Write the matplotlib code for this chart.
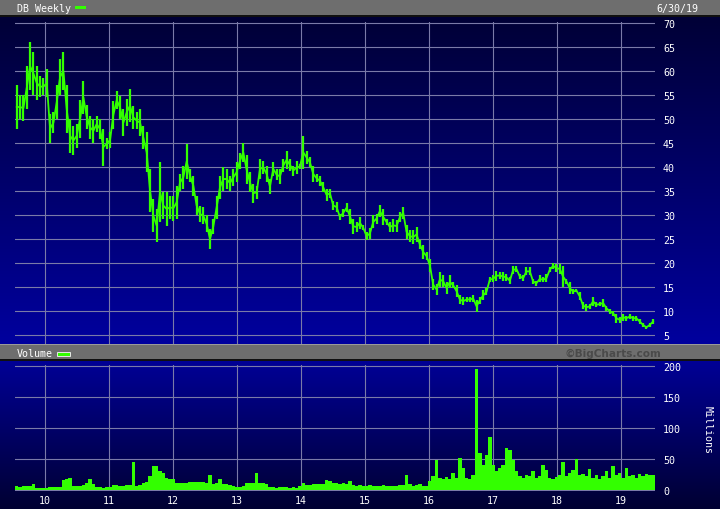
import numpy as np
import pandas as pd
import matplotlib
matplotlib.use("Agg")
import matplotlib.pyplot as plt
import matplotlib.dates as mdates
from matplotlib.colors import LinearSegmentedColormap
from matplotlib.patches import Rectangle

# DB weekly price, read every ~2.7 weeks: bar high / bar low
price_hi = [57, 55, 55, 61, 66, 64, 61, 59, 58.5, 60.4,
            51, 51.4, 57, 62.5, 64, 57, 50, 48.6, 49, 54,
            58, 53, 50.7, 50, 50.7, 50, 48, 46, 47.2, 53.8,
            55.9, 54.8, 52, 54.2, 56.3, 52.8, 51.4, 52, 48.6, 47.2,
            39.6, 33.3, 31.3, 41, 34.7, 34.7, 34, 34,
            36.1, 38.5, 40.3, 44.8, 39.6, 38.2, 34, 31.9, 31.6, 29.9,
            27.1, 29.2, 34, 38.2, 39.9, 39.6, 38.2, 39.6, 41, 43,
            45.1, 42.4, 38.9, 36.5, 36.1, 41.7, 41.3, 40.3, 37.5, 41,
            39.6, 39.6, 41.7, 43.4, 41.7, 40.3, 41.3, 40.6, 46.5, 43.4,
            42, 40.3, 38.5, 38.2, 36.8, 35.4, 35.5,
            33, 32.7, 30.3, 31.3, 32.4, 31.3, 29.2, 28.5, 29.6, 27.9,
            26.5, 27.2, 29.9, 30.3, 32, 31.3, 29.2, 28.5, 29.2, 28.9,
            30.6, 31.7, 27.9, 26.8, 26.8, 27.5, 24.7, 23.7, 22.3, 20.9,
            16.7, 15.7, 18.1, 17.4, 16, 17.4, 16, 15.4, 13.3, 12.9,
            12.9, 12.9, 13.3, 12.2, 12.9, 14.3, 14.7, 17.1,
            17.4, 18.4, 18.1, 18.1, 17.7, 17, 19.4, 19.4, 17.7, 17.4,
            19.1, 19.1, 16.7, 16.3, 17.4, 17, 17.7, 19.1, 20.1, 19.8,
            19.8, 19.4, 16.7, 16, 14.6, 14.6, 13.9, 11.8, 11.5, 11.5,
            12.9, 11.8, 11.8, 12.5, 11.1, 10.4, 10.1, 9.4, 8.7, 9.4,
            9, 9.4, 9, 9, 8.3, 7.6, 6.9, 7.6, 8.3]
price_lo = [48, 50, 49.5, 52, 56, 55, 54, 54.5, 55, 54.5,
            45, 47, 50, 55, 56, 47, 43, 42.4, 44, 46,
            51, 48, 45.8, 45.1, 47.2, 45.8, 40.3, 43.7, 44, 47.9,
            52, 50, 46.5, 48.6, 49.3, 47.9, 47.9, 46.5, 43.7, 38.9,
            30.6, 26.4, 24.3, 28.5, 29.2, 27.8, 29.2, 28.8,
            29.2, 35, 35.4, 37.5, 36.8, 34, 29.9, 28.5, 28.1, 26.4,
            22.9, 26, 29.2, 33.3, 35.1, 35.4, 35.1, 36.1, 36.8, 39.6,
            41, 36.5, 34.7, 32.6, 33.3, 37.5, 38.5, 36.8, 34.4, 38.2,
            37.2, 36.5, 38.9, 39.6, 39.2, 38.2, 38.5, 39.6, 39.6, 40.6,
            39.9, 36.8, 36.8, 36.1, 34.7, 33, 33.5,
            31, 30.6, 28.9, 29.6, 30.6, 28.2, 26.1, 26.5, 27.1, 26.8,
            24.7, 25.1, 27.2, 28.2, 29.6, 27.9, 27.9, 26.5, 26.5, 26.5,
            28.5, 29.2, 25.1, 24.4, 24, 24.4, 23, 20.9, 20.6, 18.1,
            14.3, 13.3, 15, 15, 13.6, 14.7, 14.7, 12.9, 11.5, 11.2,
            11.9, 11.9, 11.9, 9.8, 11.5, 12.2, 13.3, 16,
            16, 16.3, 16.7, 16.3, 16.3, 15.6, 17.7, 18.1, 16.7, 16.3,
            17.4, 17.4, 15.6, 15.3, 16, 16, 16, 18.1, 18.7, 18.1,
            17.7, 14.9, 15.6, 13.5, 13.5, 13.9, 12.2, 10.4, 10.1, 10.4,
            11.1, 10.8, 11.1, 10.8, 10.1, 9.4, 9, 7.6, 7.6, 8,
            8, 8.3, 8, 8, 7.3, 6.6, 6.3, 6.6, 7.3]
# volume, millions
volume = [6, 5, 7, 6, 6, 9, 4, 3, 3, 4,
          5, 5, 5, 5, 16, 18, 20, 7, 7, 7,
          8, 12, 17, 9, 5, 5, 4, 5, 5, 8,
          8, 7, 7, 8, 8, 45, 7, 8, 12, 13,
          22, 39, 38, 30, 28, 20, 18, 17, 11, 11,
          11, 12, 13, 13, 13, 13, 13, 12, 25, 9,
          12, 18, 9, 9, 8, 6, 5, 5, 6, 12,
          12, 12, 28, 12, 12, 10, 5, 5, 4, 5,
          5, 5, 4, 5, 4, 6, 12, 8, 8, 9,
          9, 9, 9, 16, 15, 11, 11, 10, 11, 10,
          15, 8, 7, 8, 6, 7, 8, 7, 6, 7,
          8, 7, 6, 7, 6, 8, 8, 24, 9, 7,
          8, 10, 6, 7, 15, 22, 49, 20, 18, 21,
          18, 27, 20, 51, 35, 20, 18, 24, 195, 60,
          40, 56, 86, 40, 30, 35, 40, 67, 64, 48,
          30, 22, 20, 24, 22, 30, 20, 22, 40, 32,
          20, 18, 21, 24, 45, 22, 27, 32, 50, 24,
          26, 22, 34, 20, 24, 18, 22, 30, 20, 38,
          25, 28, 20, 35, 22, 24, 20, 26, 22, 26, 25, 24]

dates = pd.date_range("2009-07-23", "2019-07-02", periods=len(price_hi))
year_ticks = pd.date_range("2010-01-01", "2019-01-01", freq="YS")
price_ticks = [5, 10, 15, 20, 25, 30, 35, 40, 45, 50, 55, 60, 65, 70]
vol_ticks = [0, 50, 100, 150, 200]

GREEN = "#33ff00"
GRID = "#7a7aa8"
HEAD = "#6e6e6e"
W, H = 720, 510

plt.rcParams["font.family"] = "DejaVu Sans Mono"

fig = plt.figure(figsize=(7.2, 5.1), dpi=100)
fig.patch.set_facecolor("#000035")


def box(x0, y0, x1, y1):
    return [x0 / W, 1 - y1 / H, (x1 - x0) / W, (y1 - y0) / H]


grad = np.linspace(0, 1, 256).reshape(-1, 1)
bg1 = fig.add_axes(box(0, 17, 720, 345))
bg1.imshow(grad, aspect="auto", extent=(0, 1, 0, 1),
           cmap=LinearSegmentedColormap.from_list("p", ["#000036", "#00009e"]))
bg1.set_axis_off()
bg2 = fig.add_axes(box(0, 361, 720, 510))
bg2.imshow(grad, aspect="auto", extent=(0, 1, 0, 1),
           cmap=LinearSegmentedColormap.from_list("v", ["#000096", "#000032"]))
bg2.set_axis_off()

# header bars
for y0, y1 in [(0, 17), (345, 361)]:
    fig.add_artist(Rectangle((0, 1 - y1 / H), 1, (y1 - y0) / H, transform=fig.transFigure,
                             facecolor=HEAD, edgecolor="none"))
    fig.add_artist(Rectangle((0, 1 - (y0 + 1.2) / H), 1, 1.2 / H, transform=fig.transFigure,
                             facecolor="#9a9a9a", edgecolor="none"))
    fig.add_artist(Rectangle((0, 1 - (y1 + 1) / H), 1, 1.6 / H, transform=fig.transFigure,
                             facecolor="#101010", edgecolor="none"))

fig.text(17 / W, 1 - 9 / H, "DB Weekly", color="white", fontsize=7.2, va="center")
fig.add_artist(Rectangle((75 / W, 1 - 9.5 / H), 11 / W, 3 / H, transform=fig.transFigure,
                         facecolor=GREEN, edgecolor="none"))
fig.text(698 / W, 1 - 9 / H, "6/30/19", color="white", fontsize=7.2, va="center", ha="right")
fig.text(17 / W, 1 - 354.5 / H, "Volume", color="white", fontsize=7.2, va="center")
fig.add_artist(Rectangle((57.5 / W, 1 - 356.5 / H), 12.5 / W, 4 / H, transform=fig.transFigure,
                         facecolor=GREEN, edgecolor="#e8e8e8", linewidth=0.7))
fig.text(613 / W, 1 - 353.5 / H, "\u00a9BigCharts.com", color="#4a4a4a", fontsize=7.6,
         va="center", ha="center", family="DejaVu Sans", weight="bold")

# price panel
ax = fig.add_axes(box(15, 23, 655, 345))
ax.set_facecolor("none")
price_mid = (np.array(price_hi) + np.array(price_lo)) / 2
ax.vlines(dates, price_lo, price_hi, color=GREEN, linewidth=1.6)
ax.plot(dates, price_mid, color=GREEN, linewidth=1.3)
ax.set_xlim(pd.Timestamp("2009-07-13"), pd.Timestamp("2019-07-13"))
ax.set_ylim(5 - 9 / 4.8, 70 + 1 / 4.8)
ax.set_yticks(price_ticks)
ax.set_xticks(year_ticks)
ax.grid(color=GRID, linewidth=0.8)
ax.set_axisbelow(True)
ax.tick_params(axis="x", length=0, labelbottom=False)
ax.yaxis.tick_right()
ax.tick_params(axis="y", length=0, pad=5.8, labelcolor="white", labelsize=7.2)
for sp in ax.spines.values():
    sp.set_visible(False)

# volume panel
ax2 = fig.add_axes(box(15, 366, 655, 492))
ax2.set_facecolor("none")
bar_w = np.diff(mdates.date2num(dates)).mean() * 1.02
ax2.bar(dates, volume, width=bar_w, color=GREEN, linewidth=0)
ax2.set_xlim(pd.Timestamp("2009-07-13"), pd.Timestamp("2019-07-13"))
ax2.set_ylim(-1 / 0.62, 200 + 1 / 0.62)
ax2.set_yticks(vol_ticks)
ax2.set_xticks(year_ticks)
ax2.xaxis.set_major_formatter(mdates.DateFormatter("%y"))
ax2.grid(color=GRID, linewidth=0.8)
ax2.set_axisbelow(True)
ax2.tick_params(axis="x", length=0, pad=3.2, labelcolor="white", labelsize=7.2)
ax2.yaxis.tick_right()
ax2.tick_params(axis="y", length=0, pad=5.8, labelcolor="white", labelsize=7.2)
for sp in ax2.spines.values():
    sp.set_visible(False)
fig.text(708 / W, 1 - 430 / H, "Millions", color="white", fontsize=7.2, rotation=-90,
         va="center", ha="center")

fig.savefig("out.png", dpi=100, facecolor=fig.get_facecolor())
